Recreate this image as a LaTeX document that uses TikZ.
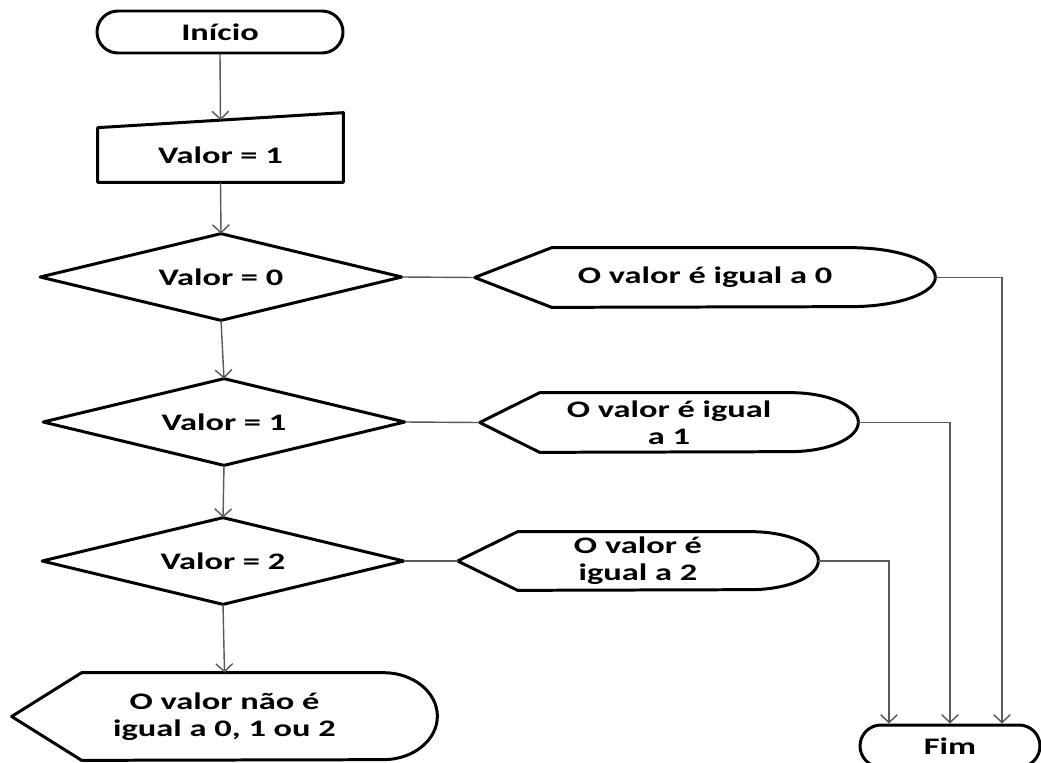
\documentclass[tikz,border=0pt]{standalone}
\usepackage{fontspec}
\setmainfont{Carlito}[FakeStretch=1.45]
\usetikzlibrary{shapes.misc,arrows.meta,calc}

\tikzset{
	outline/.style={draw=black, line width=1.7pt, line join=round},
	term/.style={rounded rectangle, outline, minimum height=0.84cm, inner sep=0pt},
	box/.style={inner sep=0pt, align=center},
	cond/.style={box, minimum width=7.22cm, minimum height=1.72cm},
	conn/.style={draw=black!65, line width=0.8pt, -{Straight Barb[length=4.5pt,width=9.5pt]}},
	link/.style={draw=black!65, line width=0.8pt},
}

\begin{document}
\begin{tikzpicture}[font=\fontsize{13.5}{15.5}\selectfont\bfseries]

	\useasboundingbox (0,0) rectangle (20.82,-15.24);
	\fill[white] (0,0) rectangle (20.82,-15.24);
	\clip (0,0) rectangle (20.82,-15.24);

	% start and input
	\node[term, minimum width=4.92cm] (inicio) at (4.40,-0.64) {Início};
	\node[box, minimum width=4.90cm, minimum height=1.08cm] (entrada) at (4.41,-3.10) {Valor = 1};
	\draw[outline] (entrada.south west) -- (entrada.north west) -- ($(entrada.north east)+(0,0.30)$) -- (entrada.south east) -- cycle;
	\path (entrada.north west) -- ($(entrada.north east)+(0,0.30)$) coordinate[pos=0.5] (entrada_top);

	% draw decisions
	\foreach \s/\x/\y in {0/4.42/-5.54, 1/4.48/-8.44, 2/4.46/-11.22}
	{
		\node[cond] (d_\s) at (\x,\y) {Valor = \s};
		\draw[outline] (d_\s.west) -- (d_\s.north) -- (d_\s.east) -- (d_\s.south) -- cycle;
	}

	% draw displays
	\node[box, minimum width=9.20cm, minimum height=1.18cm] (s_0) at (14.10,-5.55) {O valor é igual a 0};
	\node[box, minimum width=7.56cm, minimum height=1.18cm] (s_1) at (13.38,-8.45) {O valor é igual\\a 1};
	\node[box, minimum width=7.20cm, minimum height=1.16cm] (s_2) at (12.76,-11.22) {O valor é\\igual a 2};
	\node[box, minimum width=8.50cm, minimum height=1.74cm] (s_n) at (4.49,-14.33) {O valor não é\\igual a 0, 1 ou 2};
	\foreach \n/\dx/\rx/\ry in {s_0/1.54/1.70/0.59, s_1/1.20/1.36/0.59, s_2/1.20/1.36/0.58, s_n/1.40/1.08/0.87}
	{
		\draw[outline] (\n.west) -- ([xshift=\dx cm]\n.north west) -- ([xshift=-\rx cm]\n.north east)
			arc[start angle=90, end angle=-90, x radius=\rx, y radius=\ry] -- ([xshift=\dx cm]\n.south west) -- cycle;
	}

	% end
	\node[term, minimum width=3.60cm] (fim) at (19.00,-14.92) {Fim};

	% draw edges
	\draw[conn] (inicio.south) -- (entrada_top);
	\draw[conn] (entrada.south) -- (d_0.north);
	\draw[conn] (d_0.south) -- (d_1.north);
	\draw[conn] (d_1.south) -- (d_2.north);
	\draw[conn] (d_2.south) -- (s_n.north);
	\foreach \s in {0,1,2}
	{
		\draw[link] (d_\s.east) -- (s_\s.west);
	}
	\draw[conn] (s_0.east) -| ([xshift=1.04cm]fim.north);
	\draw[conn] (s_1.east) -| (fim.north);
	\draw[conn] (s_2.east) -| ([xshift=-1.22cm]fim.north);

\end{tikzpicture}
\end{document}
